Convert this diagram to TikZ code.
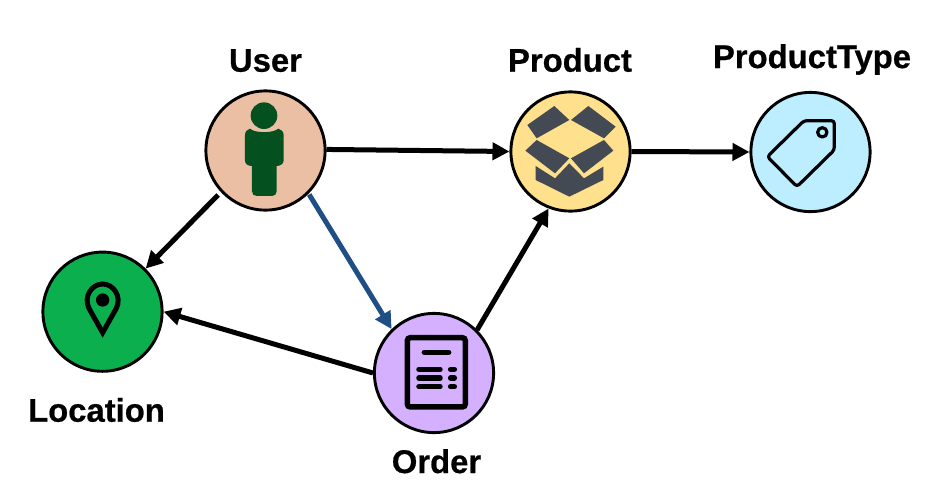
\documentclass[tikz,border=0pt]{standalone}
\usepackage{fontspec}
\setmainfont{Liberation Sans}[BoldFeatures={FakeBold=0.6}]
\usetikzlibrary{arrows.meta}
\definecolor{userfill}{HTML}{EBBFA3}
\definecolor{prodfill}{HTML}{FFE08C}
\definecolor{typefill}{HTML}{BDEEFF}
\definecolor{locfill}{HTML}{0BAF4E}
\definecolor{orderfill}{HTML}{D5B0FF}
\definecolor{persongreen}{HTML}{04501F}
\definecolor{boxgrey}{HTML}{434A54}
\definecolor{bluelink}{HTML}{1F4E84}
\tikzset{
  entity/.style={circle,draw=black,line width=2.9pt,minimum size=119.2pt,inner sep=0pt,outer sep=1.4pt},
  lbl/.style={anchor=base,inner sep=0pt,font=\fontsize{32.8}{36}\selectfont\bfseries},
  link/.style={line width=5pt,draw=black,-{Triangle[length=17pt,width=17pt]}},
  bluearrow/.style={link,draw=bluelink,-{Triangle[length=17pt,width=17pt,fill=bluelink]}},
  icon/.style={x=0.3333pt,y=-0.3333pt},
  iconline/.style={draw=black,line width=3.2pt,line join=round}
}
\begin{document}
\begin{tikzpicture}[x=1pt,y=-1pt]
\useasboundingbox (0,0) rectangle (926,496);
\fill[white] (0,0) rectangle (926,496);
% circles
\node[entity,fill=userfill]  (user)  at (265.5,150.5) {};
\node[entity,fill=prodfill]  (prod)  at (570.5,151.5) {};
\node[entity,fill=typefill]  (ptype) at (810.5,152) {};
\node[entity,fill=locfill]   (loc)   at (102.5,311.7) {};
\node[entity,fill=orderfill] (order) at (434,373) {};
% labels
\node[lbl] (userlbl)  at (265.5,71.7) {User};
\node[lbl] (prodlbl)  at (570,71.7) {Product};
\node[lbl] (typelbl)  at (812,68) {ProductType};
\node[lbl] (loclbl)   at (96.5,421.7) {Location};
\node[lbl] (orderlbl) at (436.5,473) {Order};
% connectors
\draw[link] (user.1) -- (prod.west);
\draw[link] (prod.east) -- (ptype.west);
\draw[link,shorten <=4pt] (user.223) -- (loc.45);
\draw[bluearrow,shorten <=1pt] (user.-45) -- (order.134);
\draw[link] (order.180) -- (loc.0);
\draw[link] (order.45) -- (prod.249);
% person icon
\begin{scope}[shift={(190,30)}]
\begin{scope}[icon]
\fill[persongreen] (222,257) circle[radius=40];
\fill[persongreen] (180,296) .. controls (195,310) and (250,310) .. (265,296)
  .. controls (274,298) and (281,305) .. (281,316) -- (281,392)
  .. controls (281,402) and (270,408) .. (260,408) -- (260,484)
  .. controls (260,493) and (254,498) .. (246,498) -- (200,498)
  .. controls (192,498) and (186,493) .. (186,484) -- (186,408)
  .. controls (174,408) and (165,402) .. (165,392) -- (165,316)
  .. controls (165,305) and (171,298) .. (180,296) -- cycle;
\end{scope}
\end{scope}
% box icon
\begin{scope}[shift={(500,30)}]
\begin{scope}[icon]
\fill[boxgrey] (163,228) -- (208,270) -- (110,325) -- (82,285) -- cycle;
\fill[boxgrey] (265,228) -- (347,290) -- (312,325) -- (213,270) -- cycle;
\fill[boxgrey] (110,330) -- (208,385) -- (165,430) -- (76,362) -- cycle;
\fill[boxgrey] (312,330) -- (340,362) -- (252,430) -- (213,385) -- cycle;
\fill[boxgrey] (107,408) -- (165,445) -- (208,400) -- (252,445) -- (310,410) -- (310,450) -- (208,500) -- (107,450) -- cycle;
\end{scope}
\end{scope}
% tag icon
\begin{scope}[shift={(700,30)}]
\begin{scope}[icon]
\draw[iconline,rounded corners=3pt] (202,380) -- (312,272) -- (403,272) -- (403,360) -- (291,470) -- cycle;
\draw[iconline] (367,307) circle[radius=14];
\end{scope}
\end{scope}
% pin icon
\begin{scope}[shift={(20,240)}]
\begin{scope}[icon]
\draw[draw=black,line width=5pt,miter limit=10] (248,278) -- (207,205)
  .. controls (190,170) and (215,132) .. (248,132)
  .. controls (281,132) and (306,170) .. (289,205) -- cycle;
\fill[black] (248,180) circle[radius=20];
\end{scope}
\end{scope}
% document icon
\begin{scope}[shift={(360,300)}]
\begin{scope}[icon]
\draw[draw=black,line width=5.5pt,rounded corners=3pt] (142,113) rectangle (316,321);
\draw[black,line width=5.5pt,line cap=round] (193,157) -- (266,157);
\foreach \yy in {208,234,260}{
  \draw[black,line width=5.5pt,line cap=round] (177,\yy) -- (240,\yy);
  \draw[black,line width=5.5pt,line cap=round] (272,\yy) -- (283,\yy);
}
\end{scope}
\end{scope}
\end{tikzpicture}
\end{document}
